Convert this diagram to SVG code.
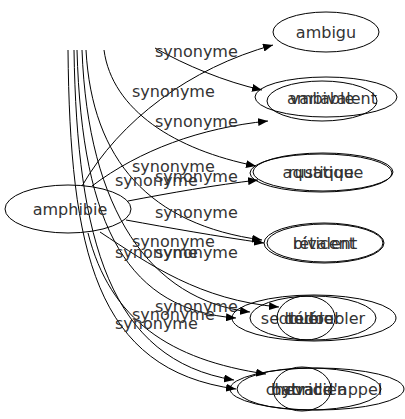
<svg xmlns="http://www.w3.org/2000/svg" width="405" height="419" viewBox="0 0 405 419">
<defs>
<marker id="ah" markerUnits="userSpaceOnUse" markerWidth="10" markerHeight="8" refX="10" refY="4" orient="auto"><path d="M0,0 L10,4 L0,8 z" fill="#000"/></marker>
<style>
.n ellipse{fill:none;stroke:#000;stroke-width:1}
.t{font-family:"DejaVu Sans",sans-serif;font-size:16px;fill:#333;text-anchor:middle}
.l{font-family:"DejaVu Sans",sans-serif;font-size:16px;fill:#333}
.e path{fill:none;stroke:#000;stroke-width:1;marker-end:url(#ah)}
</style>
</defs>
<rect width="405" height="419" fill="#fff"/>
<g class="e" id="edges">
<path d="M82,186 C120,120 190,68 273,45"/>
<path d="M155,48 C185,65 225,82 262,90"/>
<path d="M92,186 C140,150 200,128 268,121"/>
<path d="M104,50 C112,110 175,150 256,166"/>
<path d="M128,201 C170,193 215,185 258,180"/>
<path d="M86,50 C92,160 150,225 262,240"/>
<path d="M126,220 C170,228 215,236 264,243"/>
<path d="M82,50 C88,210 150,300 250,312"/>
<path d="M77,50 C82,230 130,310 236,318"/>
<path d="M100,232 C150,265 200,300 279,307"/>
<path d="M74,50 C77,240 110,360 234,380"/>
<path d="M68,50 C70,250 95,370 236,389"/>
<path d="M88,233 C110,320 170,360 266,374"/>
</g>
<g id="labels">
<text class="l" x="155" y="57">synonyme</text>
<text class="l" x="132" y="97">synonyme</text>
<text class="l" x="155" y="127">synonyme</text>
<text class="l" x="132" y="172">synonyme</text>
<text class="l" x="115" y="186">synonyme</text>
<text class="l" x="155" y="182">synonyme</text>
<text class="l" x="155" y="218">synonyme</text>
<text class="l" x="132" y="247">synonyme</text>
<text class="l" x="115" y="258">synonyme</text>
<text class="l" x="155" y="258">synonyme</text>
<text class="l" x="155" y="312">synonyme</text>
<text class="l" x="132" y="320">synonyme</text>
<text class="l" x="115" y="329">synonyme</text>
</g>
<g class="n" id="amphibie"><ellipse cx="68" cy="209" rx="63" ry="24"/><text class="t" x="70" y="215">amphibie</text></g>
<g class="n" id="ambigu"><ellipse cx="326" cy="32" rx="53" ry="20"/><text class="t" x="326" y="38">ambigu</text></g>
<g class="n" id="ambivalent"><ellipse cx="326" cy="97" rx="71" ry="20"/><text class="t" x="332" y="104">ambivalent</text></g>
<g class="n" id="variable"><ellipse cx="322" cy="101" rx="55" ry="20"/><text class="t" x="322" y="104">variable</text></g>
<g class="n" id="aquatique"><ellipse cx="323" cy="172" rx="70" ry="19"/><text class="t" x="323" y="178">aquatique</text></g>
<g class="n" id="rustique"><ellipse cx="321" cy="173" rx="71" ry="19"/><text class="t" x="321" y="178">rustique</text></g>
<g class="n" id="bivalent"><ellipse cx="325" cy="243" rx="58" ry="19"/><text class="t" x="325" y="249">bivalent</text></g>
<g class="n" id="reticent"><ellipse cx="324" cy="243" rx="60" ry="20"/><text class="t" x="324" y="249">réticent</text></g>
<g class="n" id="tolerer"><ellipse cx="314" cy="318" rx="82" ry="23"/><text class="t" x="314" y="324">tolérer</text></g>
<g class="n" id="dedoubler"><ellipse cx="313" cy="318" rx="63" ry="22"/><text class="t" x="313" y="324">se dédoubler</text></g>
<g class="n" id="double"><ellipse cx="306" cy="318" rx="29" ry="22"/><text class="t" x="306" y="324">double</text></g>
<g class="n" id="appel"><ellipse cx="317" cy="389" rx="87" ry="21"/><text class="t" x="324" y="395">cheval d'appel</text></g>
<g class="n" id="batracien"><ellipse cx="309" cy="389" rx="72" ry="21"/><text class="t" x="309" y="395">batracien</text></g>
<g class="n" id="hybride"><ellipse cx="302" cy="389" rx="29" ry="22"/><text class="t" x="302" y="395">hybride</text></g>
</svg>
